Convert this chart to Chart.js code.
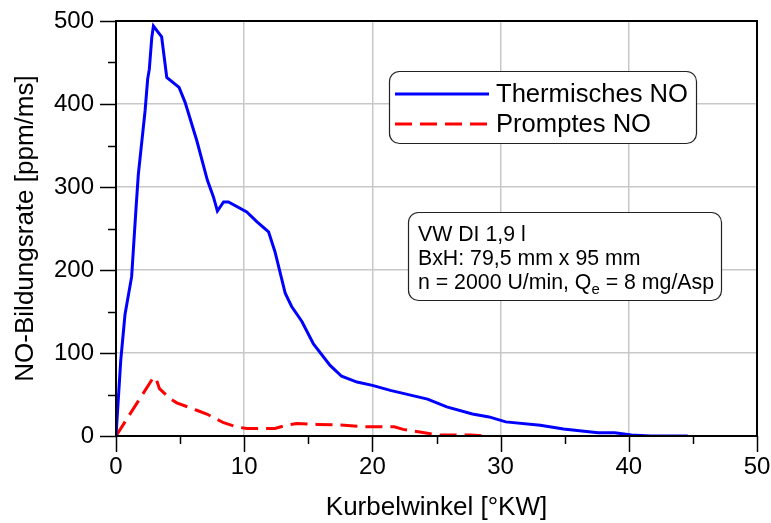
<!DOCTYPE html>
<html>
<head>
<meta charset="utf-8">
<script src="https://cdn.jsdelivr.net/npm/chart.js@4"></script>
<style>
  html, body { margin: 0; padding: 0; background: #fff; }
  #wrap { width: 771px; height: 523px; }
</style>
</head>
<body>
<div id="wrap"><canvas id="c" width="771" height="523"></canvas></div>
<script>
// NO formation rate over crank angle
const thermX = [0, 0.37, 0.70, 1.22, 1.56, 1.74, 2.27, 2.47, 2.6, 2.79, 2.92, 3.56, 3.96, 4.92, 5.39, 6.3, 7.13, 7.6, 7.91, 8.39, 8.77, 10.2, 11.0, 11.9, 12.4, 13.2, 13.7, 14.5, 15.4, 16.7, 17.6, 18.8, 20.0, 21.4, 24.3, 25.8, 27.8, 29.1, 30.4, 33.1, 34.9, 37.6, 38.9, 40.2, 41.7, 44.6];
const thermY = [0, 91, 146, 192, 274, 315, 392, 430, 442, 480, 494, 481, 432, 420, 402, 356, 308, 288, 271, 282, 282, 270, 258, 246, 222, 172, 156, 138, 111, 85, 72, 65, 61, 55, 44.5, 35, 26.5, 23, 17, 13, 8.4, 4, 4, 1.2, 0, 0];

const promptX = [0, 1.61, 2.92, 3.1, 3.39, 4.22, 4.74, 6.3, 7.08, 8.39, 9.4, 10.2, 12.4, 13.3, 14.1, 15.7, 17.8, 19.3, 21.7, 22.4, 24.3, 25.3, 27.7, 28.7];
const promptY = [0, 39, 70.6, 70, 57, 45, 40, 31, 26.5, 16, 11, 9, 9, 13, 15, 14, 13, 11, 11, 8, 3.2, 1.2, 1.2, 0];

const seriesNames = ['Thermisches NO', 'Promptes NO'];
const xTitle = 'Kurbelwinkel [°KW]';
const yTitle = 'NO-Bildungsrate [ppm/ms]';
const infoLines = ['VW DI 1,9 l', 'BxH: 79,5 mm x 95 mm'];
const infoLast = ['n = 2000 U/min, Q', 'e', ' = 8 mg/Asp'];

const FONT = "'Liberation Sans', Arial, sans-serif";

const toPoints = (xs, ys) => xs.map((x, i) => ({ x, y: ys[i] }));

// outward tick marks (long at majors, short at minors) and the closing frame
const frameAndTicks = {
  id: 'frameAndTicks',
  afterDraw(chart) {
    const { ctx, chartArea: a, scales: { x, y } } = chart;
    ctx.save();
    ctx.strokeStyle = '#000';
    ctx.lineWidth = 2;
    ctx.strokeRect(a.left, a.top, a.right - a.left, a.bottom - a.top);
    ctx.lineWidth = 1.5;
    ctx.beginPath();
    for (let v = 0; v <= 50; v += 5) {
      const px = Math.round(x.getPixelForValue(v)) + 0.5;
      const len = v % 10 === 0 ? 16 : 8;
      ctx.moveTo(px, a.bottom);
      ctx.lineTo(px, a.bottom + len);
    }
    for (let v = 0; v <= 500; v += 50) {
      const py = Math.round(y.getPixelForValue(v)) + 0.5;
      const len = v % 100 === 0 ? 16 : 8;
      ctx.moveTo(a.left, py);
      ctx.lineTo(a.left - len, py);
    }
    ctx.stroke();
    ctx.restore();
  }
};

function roundBox(ctx, x, y, w, h, r) {
  ctx.beginPath();
  ctx.moveTo(x + r, y);
  ctx.lineTo(x + w - r, y);
  ctx.arcTo(x + w, y, x + w, y + r, r);
  ctx.lineTo(x + w, y + h - r);
  ctx.arcTo(x + w, y + h, x + w - r, y + h, r);
  ctx.lineTo(x + r, y + h);
  ctx.arcTo(x, y + h, x, y + h - r, r);
  ctx.lineTo(x, y + r);
  ctx.arcTo(x, y, x + r, y, r);
  ctx.closePath();
  ctx.fillStyle = '#fff';
  ctx.fill();
  ctx.strokeStyle = '#222';
  ctx.lineWidth = 1.2;
  ctx.stroke();
}

// legend and engine info boxes
const boxes = {
  id: 'boxes',
  afterDraw(chart) {
    const ctx = chart.ctx;
    ctx.save();
    // legend
    roundBox(ctx, 389.5, 71.5, 307, 72, 10);
    const ds = chart.data.datasets;
    const rows = [94, 124];
    ds.forEach((d, i) => {
      ctx.beginPath();
      ctx.strokeStyle = d.borderColor;
      ctx.lineWidth = 3;
      ctx.setLineDash(d.borderDash || []);
      ctx.moveTo(395, rows[i]);
      ctx.lineTo(489, rows[i]);
      ctx.stroke();
      ctx.setLineDash([]);
      ctx.fillStyle = '#000';
      ctx.font = '25.6px ' + FONT;
      ctx.textBaseline = 'middle';
      ctx.textAlign = 'left';
      ctx.fillText(d.label, 496, rows[i] + 1);
    });

    // engine / operating point info
    roundBox(ctx, 408.5, 212.5, 313, 88, 10);
    ctx.fillStyle = '#000';
    ctx.font = '21.3px ' + FONT;
    ctx.textBaseline = 'middle';
    ctx.fillText(infoLines[0], 418, 235);
    ctx.fillText(infoLines[1], 418, 259);
    let xp = 418;
    ctx.fillText(infoLast[0], xp, 283);
    xp += ctx.measureText(infoLast[0]).width;
    ctx.font = '15px ' + FONT;
    ctx.fillText(infoLast[1], xp, 290);
    xp += ctx.measureText(infoLast[1]).width;
    ctx.font = '21.3px ' + FONT;
    ctx.fillText(infoLast[2], xp, 283);
    ctx.restore();
  }
};

new Chart(document.getElementById('c'), {
  type: 'line',
  data: {
    datasets: [
      {
        label: seriesNames[0],
        data: toPoints(thermX, thermY),
        borderColor: '#0000ff',
        borderWidth: 3,
        pointRadius: 0,
        tension: 0,
        fill: false
      },
      {
        label: seriesNames[1],
        data: toPoints(promptX, promptY),
        borderColor: '#ff0000',
        borderWidth: 3,
        borderDash: [17, 8],
        pointRadius: 0,
        tension: 0,
        fill: false
      }
    ]
  },
  options: {
    responsive: false,
    animation: false,
    devicePixelRatio: 1,
    layout: { padding: { left: 0, top: 21, right: 14, bottom: 0 } },
    plugins: { legend: { display: false }, tooltip: { enabled: false } },
    scales: {
      x: {
        type: 'linear',
        min: 0, max: 50,
        afterFit(s) { s.height = 87; s.paddingLeft = 0; s.paddingRight = 0; },
        ticks: {
          stepSize: 5,
          padding: 17,
          color: '#000',
          font: { family: FONT, size: 24 },
          maxRotation: 0,
          callback: v => (v % 10 === 0 ? String(v) : '')
        },
        grid: {
          drawTicks: false,
          lineWidth: 1.5,
          color: c => (c.tick && c.tick.value % 10 === 0 ? '#c8c8c8' : 'rgba(0,0,0,0)')
        },
        border: { color: '#000', width: 2 },
        title: {
          display: true,
          text: xTitle,
          color: '#000',
          font: { family: FONT, size: 26 },
          padding: { top: 0, bottom: 0 }
        }
      },
      y: {
        type: 'linear',
        min: 0, max: 500,
        afterFit(s) { s.width = 116; s.paddingTop = 0; s.paddingBottom = 0; },
        ticks: {
          stepSize: 50,
          padding: 22,
          color: '#000',
          font: { family: FONT, size: 24 },
          callback: v => (v % 100 === 0 ? String(v) : '')
        },
        grid: {
          drawTicks: false,
          lineWidth: 1.5,
          color: c => (c.tick && c.tick.value % 100 === 0 ? '#c8c8c8' : 'rgba(0,0,0,0)')
        },
        border: { color: '#000', width: 2 },
        title: {
          display: true,
          text: yTitle,
          color: '#000',
          font: { family: FONT, size: 26 },
          padding: { top: 10, bottom: 0 }
        }
      }
    }
  },
  plugins: [frameAndTicks, boxes]
});
</script>
</body>
</html>
